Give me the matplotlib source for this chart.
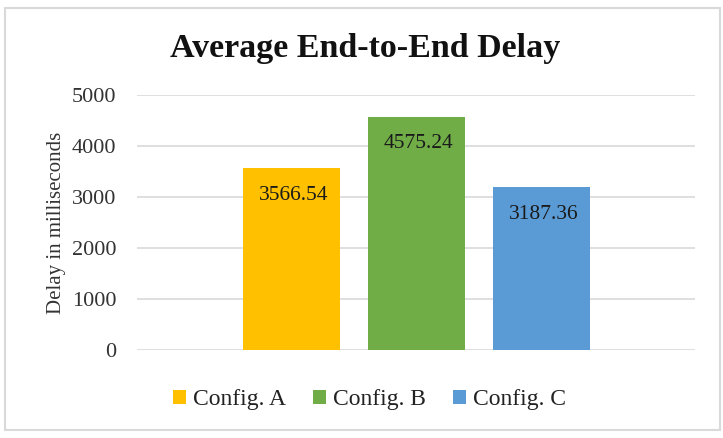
import matplotlib.pyplot as plt
from matplotlib.patches import Rectangle

# Average end-to-end delay per configuration (ms)
configs = ['Config. A', 'Config. B', 'Config. C']
delays = [3566.54, 4575.24, 3187.36]
colors = ['#FFC000', '#70AD47', '#5B9BD5']

plt.rcParams['font.family'] = ['Liberation Serif', 'DejaVu Serif']

fig = plt.figure(figsize=(7.23, 4.38), dpi=100)
ax = fig.add_axes([137 / 723, 1 - 350 / 438, 558 / 723, 255 / 438])

# chart border
fig.patches.append(Rectangle((5 / 723, 1 - 430 / 438), 715 / 723, 422 / 438,
                             transform=fig.transFigure, fill=False,
                             edgecolor='#D9D9D9', linewidth=1.5))

x = list(range(len(configs)))
bars = ax.bar(x, delays, width=0.776, color=colors, label=configs, zorder=3)

for xi, v in zip(x, delays):
    ax.annotate(f"{v:.2f}", xy=(xi, v), xytext=(3, -27), textcoords='offset pixels',
                ha='center', va='center', fontsize=15.5, color='#1a1a1a', zorder=4)

ax.set_xlim(1 - 2.232, 1 + 2.232)
ax.set_ylim(0, 5000)
ax.set_yticks(range(0, 5001, 1000))
ax.yaxis.grid(True, color='#D9D9D9', linewidth=1.2, zorder=0)
ax.set_xticks([])
ax.tick_params(axis='y', length=0, labelsize=16, pad=15, labelcolor='#333333')
for s in ax.spines.values():
    s.set_visible(False)

ax.set_ylabel('Delay in milliseconds', fontsize=15, color='#333333', labelpad=4)
fig.text(0.505, 1 - 57 / 438, 'Average End-to-End Delay', ha='center', va='baseline',
         fontsize=24.5, fontweight='bold', color='#111111')

fig.legend(bars, configs, loc='center', bbox_to_anchor=(0.511, 1 - 400 / 438),
           ncol=3, frameon=False, fontsize=17, handlelength=0.55, handleheight=0.55,
           handletextpad=0.3, columnspacing=1.15, labelcolor='#222222')

plt.savefig('out.png', dpi=100)
print("Saved: out.png")
